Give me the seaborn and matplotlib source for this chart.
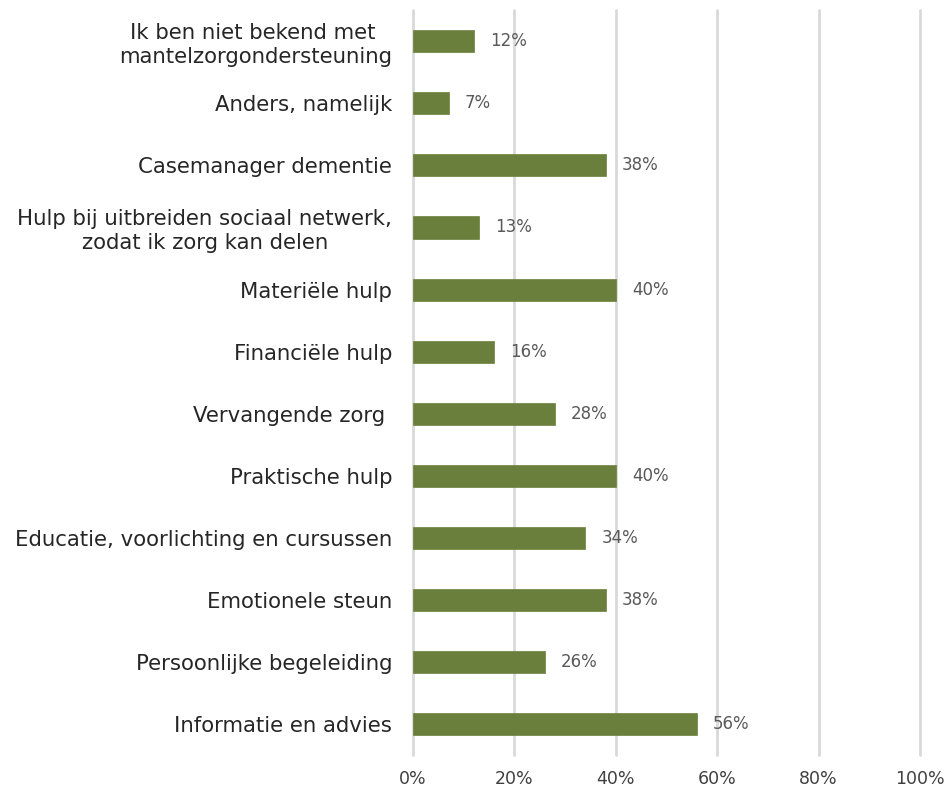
import matplotlib
matplotlib.use("Agg")
import matplotlib.pyplot as plt
import seaborn as sns
import pandas as pd

categories = [
    "Ik ben niet bekend met \nmantelzorgondersteuning",
    "Anders, namelijk",
    "Casemanager dementie",
    "Hulp bij uitbreiden sociaal netwerk,\nzodat ik zorg kan delen",
    "Materiële hulp",
    "Financiële hulp",
    "Vervangende zorg ",
    "Praktische hulp",
    "Educatie, voorlichting en cursussen",
    "Emotionele steun",
    "Persoonlijke begeleiding",
    "Informatie en advies",
]
values = [12, 7, 38, 13, 40, 16, 28, 40, 34, 38, 26, 56]
x_ticks = [0, 20, 40, 60, 80, 100]
x_tick_labels = ["0%", "20%", "40%", "60%", "80%", "100%"]

df = pd.DataFrame({"categorie": categories, "percentage": values})

sns.set_theme(style="white")
plt.rcParams["font.family"] = ["DejaVu Sans"]

fig = plt.figure(figsize=(9.46, 7.91), dpi=100)
ax = fig.add_axes([0.4366, 0.0455, 0.536, 0.9415])

sns.barplot(data=df, y="categorie", x="percentage", orient="h",
            color="#6a7f3b", saturation=1, width=0.355, ax=ax,
            edgecolor="#6a7f3b", linewidth=0.5)

ax.set_xlim(0, 100)
ax.set_xticks(x_ticks)
ax.set_xticklabels(x_tick_labels, fontsize=12.5, color="#404040")
ax.set_xlabel("")
ax.set_ylabel("")
ax.tick_params(axis="y", labelsize=15.3, colors="#262626", length=0, pad=15)
ax.tick_params(axis="x", length=0, pad=11)
for lbl in ax.get_yticklabels():
    lbl.set_horizontalalignment("right")
    lbl.set_multialignment("center")

ax.xaxis.grid(True, color="#d9d9d9", linewidth=2)
for gl in ax.get_xgridlines():
    gl.set_clip_on(False)
ax.set_axisbelow(True)
for s in ax.spines.values():
    s.set_visible(False)

for i, v in enumerate(values):
    ax.text(v + 3.2, i, f"{v}%", va="center", ha="left", fontsize=12,
            color="#595959")

fig.savefig("out.png", dpi=100)
